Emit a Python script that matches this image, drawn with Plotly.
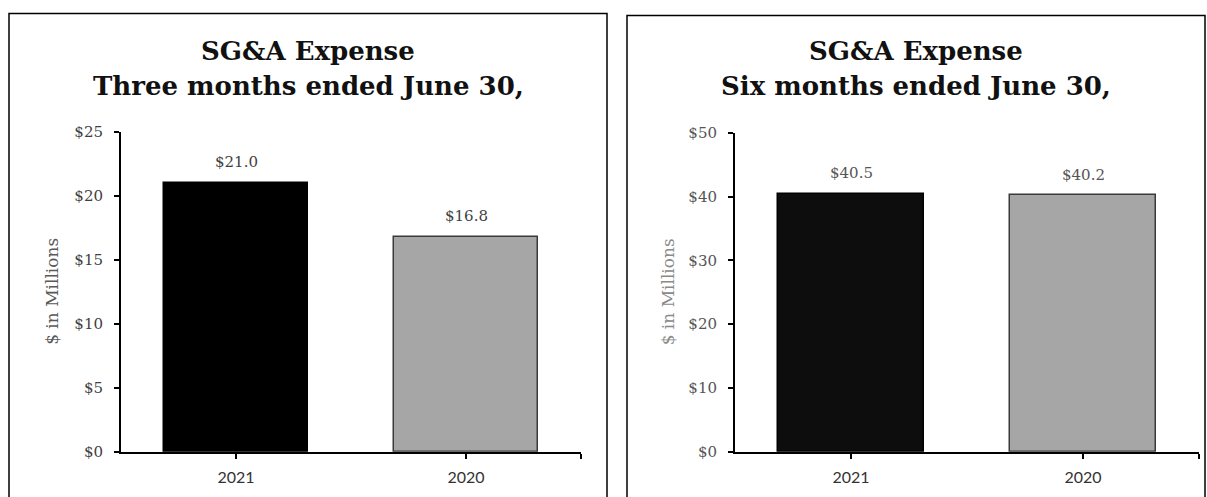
import plotly.graph_objects as go

# ---- data ----
categories = ["2021", "2020"]
three_month_values = [21.0, 16.8]
six_month_values = [40.5, 40.2]
left_yticks = [0, 5, 10, 15, 20, 25]
right_yticks = [0, 10, 20, 30, 40, 50]
title_line1 = "SG&A Expense"
left_title_line2 = "Three months ended June 30,"
right_title_line2 = "Six months ended June 30,"
y_title = "$ in Millions"

W, H = 1207, 497
# vertical compensation observed in the rendering pipeline
VS, VO = 0.968, 7.4
def px(x):
    return x / W
def py(y):
    return 1 - ((y - VO) / VS) / H

bar_colors = ["#000000", "#a6a6a6"]
bar_lines = ["#000000", "#3a3a3a"]
xpos = list(range(len(categories)))

fig = go.Figure()

panels = [
    dict(vals=three_month_values, yt=left_yticks, xa="x", ya="y", line2=left_title_line2,
         plot=(121, 581, 131, 452), box=(9, 12, 607, 540), ytitle_x=52, tickcol="#3f3f3f", valcol="#3f3f3f",
         ytcol="#595959", bar0="#000000"),
    dict(vals=six_month_values, yt=right_yticks, xa="x2", ya="y2", line2=right_title_line2,
         plot=(735, 1199, 132, 452), box=(627, 14, 1205, 540), ytitle_x=668, tickcol="#555555", valcol="#555555",
         ytcol="#8a8a8a", bar0="#0d0d0d"),
]

layout_axes = {}
annotations = []
shapes = []
for i, p in enumerate(panels):
    cols = [p["bar0"], bar_colors[1]]
    fig.add_trace(go.Bar(
        x=xpos, y=p["vals"], width=0.63,
        marker=dict(color=cols, line=dict(color=bar_lines, width=1.5)),
        xaxis=p["xa"], yaxis=p["ya"], showlegend=False, hoverinfo="skip",
    ))
    x0, x1, y0, y1 = p["plot"]
    sfx = "" if i == 0 else "2"
    layout_axes["xaxis" + sfx] = dict(
        domain=[px(x0), px(x1)], anchor=p["ya"], range=[-0.5, 1.5],
        tickmode="array", tickvals=xpos + [1.5], ticktext=categories + [""],
        showline=True, linecolor="#000000", linewidth=2,
        ticks="outside", ticklen=5, tickwidth=2, tickcolor="#000000",
        showgrid=False, zeroline=False, fixedrange=True,
        tickfont=dict(family="Lato, Open Sans, sans-serif", size=16, color="#333333"),
        ticklabelstandoff=5,
    )
    layout_axes["yaxis" + sfx] = dict(
        domain=[py(y1), py(y0)], anchor=p["xa"], range=[0, p["yt"][-1]],
        tickmode="array", tickvals=p["yt"], ticktext=["$" + str(v) for v in p["yt"]],
        showline=True, linecolor="#000000", linewidth=2,
        ticks="outside", ticklen=5, tickwidth=2, tickcolor="#000000",
        showgrid=False, zeroline=False, fixedrange=True,
        tickfont=dict(family="DejaVu Serif, serif", size=15, color=p["tickcol"]),
        ticklabelstandoff=8,
    )
    for xi, v in zip(xpos, p["vals"]):
        annotations.append(dict(
            x=xi, y=v, xref=p["xa"], yref=p["ya"], text=f"${v:.1f}", showarrow=False,
            yanchor="bottom", yshift=10,
            font=dict(family="DejaVu Serif, serif", size=15, color=p["valcol"]),
        ))
    bx0, by0, bx1, by1 = p["box"]
    cx = (bx0 + bx1) / 2
    annotations.append(dict(x=px(cx), y=py(50), xref="paper", yref="paper", text="<b>" + title_line1.replace("&", "&amp;") + "</b>",
                            showarrow=False, xanchor="center", yanchor="middle",
                            font=dict(family="DejaVu Serif, serif", size=26, color="#111111")))
    annotations.append(dict(x=px(cx), y=py(85), xref="paper", yref="paper", text="<b>" + p["line2"] + "</b>",
                            showarrow=False, xanchor="center", yanchor="middle",
                            font=dict(family="DejaVu Serif, serif", size=26, color="#111111")))
    annotations.append(dict(x=px(p["ytitle_x"]), y=py((y0 + y1) / 2), xref="paper", yref="paper", text=y_title.replace("$", "&#36;"),
                            showarrow=False, textangle=-90, xanchor="center", yanchor="middle",
                            font=dict(family="DejaVu Serif, serif", size=17, color=p["ytcol"])))
    shapes.append(dict(type="rect", xref="paper", yref="paper", x0=px(bx0), x1=px(bx1), y0=py(by1), y1=py(by0),
                       line=dict(color="#000000", width=1.5), fillcolor="rgba(0,0,0,0)", layer="below"))

fig.update_layout(
    width=W, height=H, margin=dict(l=0, r=0, t=0, b=0),
    paper_bgcolor="#ffffff", plot_bgcolor="#ffffff",
    annotations=annotations, shapes=shapes, bargap=0, **layout_axes,
)

fig.write_html("out.html", config={"displayModeBar": False},
               post_script="document.body.style.margin='0';document.body.style.overflow='hidden';")
